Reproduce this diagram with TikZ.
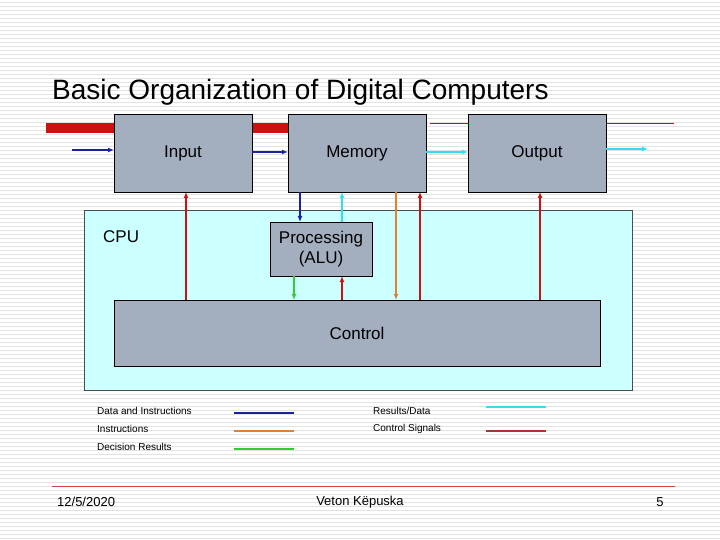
\documentclass[tikz,border=0pt]{standalone}
\usepackage{fontspec}
\setmainfont{Liberation Sans}
\usetikzlibrary{arrows.meta}
\definecolor{boxg}{HTML}{A3AFBF}
\definecolor{cpuc}{HTML}{CCFFFF}
\definecolor{dblue}{HTML}{1A2299}
\definecolor{cyanl}{HTML}{33DDEE}
\definecolor{redc}{HTML}{CC1111}
\definecolor{orangec}{HTML}{E08030}
\definecolor{greenc}{HTML}{33CC33}
\definecolor{legred}{HTML}{AA3333}
\definecolor{stripe}{HTML}{E2E2E2}
\tikzset{
 unitbox/.style={draw=black, fill=boxg, line width=0.8pt, inner sep=0pt},
 lbl/.style={font=\fontsize{17}{20}\selectfont, inner sep=0pt},
 arr/.style={-{Latex[length=6pt,width=5pt]}, line width=1.3pt},
 leg/.style={font=\fontsize{10}{11}\selectfont, anchor=west, inner sep=0pt},
 legline/.style={line width=1.8pt},
}
\begin{document}
\begin{tikzpicture}[x=1pt,y=-1pt]
\useasboundingbox (0,0) rectangle (720,540);
\fill[white] (0,0) rectangle (720,540);
\foreach \y in {2,6,...,538} \draw[stripe, line width=0.7pt] (0,\y) -- (720,\y);
\node[anchor=west, font=\fontsize{28}{30}\selectfont, inner sep=0pt] (title) at (52,92) {Basic Organization of Digital Computers};
% red bars
\fill[redc] (46,123) rectangle (114,133);
\fill[redc] (252,123) rectangle (288,133);
\draw[redc, line width=0.8pt] (430,123) -- (468,123);
\draw[redc, line width=0.8pt] (606,123) -- (674,123);
% CPU
\node[draw=black!70, fill=cpuc, line width=0.5pt, minimum width=548, minimum height=180, anchor=north west, inner sep=0pt] (cpu) at (84,210) {};
\node[anchor=west, lbl] (cpul) at (103,237) {CPU};
% boxes
\node[unitbox, minimum width=138, minimum height=78, anchor=north west] (input) at (114,114) {};
\node[lbl] (inl) at (183,153) {Input};
\node[unitbox, minimum width=138, minimum height=78, anchor=north west] (mem) at (288,114) {};
\node[lbl] (meml) at (357,153) {Memory};
\node[unitbox, minimum width=138, minimum height=78, anchor=north west] (out) at (468,114) {};
\node[lbl] (outl) at (537,153) {Output};
\node[unitbox, minimum width=102, minimum height=54, anchor=north west] (alu) at (270,222) {};
\node[lbl, align=center] (alul) at (321,249) {Processing\\(ALU)};
\node[unitbox, minimum width=486, minimum height=66, anchor=north west] (ctrl) at (114,300) {};
\node[lbl] (ctrll) at (357,333) {Control};
% horizontal arrows
\coordinate (inS) at (72,150);
\coordinate (outE) at (648,149);
\draw[arr, dblue] (inS) -- (inS -| input.west);
\draw[arr, dblue] (252,152) -- (288,152);
\draw[arr, cyanl] (426,152) -- (468,152);
\draw[arr, cyanl] (606,149) -- (outE);
% verticals
\draw[arr, redc] (186,300) -- (186,192);
\draw[arr, dblue] (300,192) -- (300,222);
\draw[arr, cyanl] (342,222) -- (342,192);
\draw[arr, greenc] (294,276) -- (294,300);
\draw[arr, redc] (342,300) -- (342,276);
\draw[arr, orangec] (396,192) -- (396,300);
\draw[arr, redc] (420,300) -- (420,192);
\draw[arr, redc] (540,300) -- (540,192);
% legend
\node[leg] (l1) at (97,411) {Data and Instructions};
\node[leg] (l2) at (97,429) {Instructions};
\node[leg] (l3) at (97,447) {Decision Results};
\node[leg] (l4) at (373,411) {Results/Data};
\node[leg] (l5) at (373,429) {Control Signals};
\draw[legline, dblue] (234,413) -- (294,413);
\draw[legline, orangec] (234,431) -- (294,431);
\draw[legline, greenc] (234,449) -- (294,449);
\draw[legline, cyanl] (486,407) -- (546,407);
\draw[legline, legred] (486,431) -- (546,431);
% footer
\draw[redc!80, line width=0.8pt] (52,486) -- (675,486);
\node[anchor=west, inner sep=0pt, font=\fontsize{13}{15}\selectfont] (date) at (57,502) {12/5/2020};
\node[inner sep=0pt, font=\fontsize{13}{15}\selectfont] (auth) at (360,502) {Veton Këpuska};
\node[inner sep=0pt, font=\fontsize{13}{15}\selectfont] (pg) at (660,502) {5};
\end{tikzpicture}
\end{document}
